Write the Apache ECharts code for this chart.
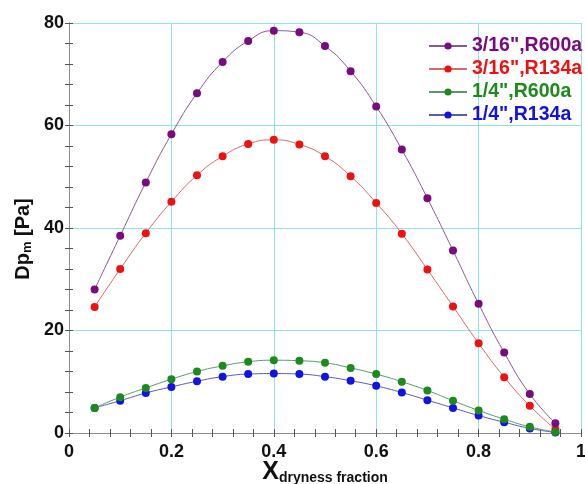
<!DOCTYPE html>
<html><head><meta charset="utf-8">
<script src="https://cdn.jsdelivr.net/npm/echarts@6/dist/echarts.min.js"></script>
<style>html,body{margin:0;padding:0;background:#fff;overflow:hidden}#c{width:585px;height:484px}</style>
</head><body><div id="c"></div>
<script>
const xValues = [0.05,0.10,0.15,0.20,0.25,0.30,0.35,0.40,0.45,0.50,0.55,0.60,0.65,0.70,0.75,0.80,0.85,0.90,0.95];
const r600a316 = [28.0,38.5,48.9,58.3,66.3,72.4,76.5,78.5,78.2,75.5,70.6,63.7,55.3,45.8,35.6,25.2,15.7,7.6,1.9];
const r134a316 = [24.6,32.0,39.0,45.1,50.3,54.0,56.4,57.2,56.3,54.0,50.1,44.9,38.9,31.9,24.7,17.5,10.9,5.3,0.7];
const r600a14 = [4.9,7.0,8.8,10.5,12.0,13.1,13.9,14.2,14.1,13.7,12.7,11.5,10.0,8.3,6.3,4.4,2.7,1.2,0.2];
const r134a14 = [4.9,6.3,7.8,9.0,10.1,11.0,11.5,11.6,11.5,11.0,10.2,9.2,7.9,6.4,4.9,3.4,2.1,0.9,0.1];
const seriesNames = ['3/16",R600a','3/16",R134a','1/4",R600a','1/4",R134a'];
const xTicks = [0,0.2,0.4,0.6,0.8,1];
const yTicks = [0,20,40,60,80];

const pts = arr => arr.map((v,i)=>[xValues[i], v]);
const FONT = 'Liberation Sans, Arial, sans-serif';
const cols = {
  p:{m:'#7a0a80', l:'#8a5a8e'},
  r:{m:'#ee1111', l:'#d86a6a'},
  g:{m:'#1c8a1c', l:'#5a9a6a'},
  b:{m:'#1212e6', l:'#5a5ab8'}
};
function mk(name, data, c, z){
  return {name, type:'line', data:pts(data), smooth:0.5, symbol:'circle', symbolSize:8, z,
    itemStyle:{color:c.m}, lineStyle:{color:c.l, width:1}, emphasis:{disabled:true}};
}
const chart = echarts.init(document.getElementById('c'), null, {renderer:'canvas'});
const axisLine = {show:true, lineStyle:{color:'#8c8c8c', width:1}};
chart.setOption({
  animation:false,
  backgroundColor:'#fff',
  grid:{left:69, right:4, top:23, bottom:51, containLabel:false, outerBoundsMode:'none'},
  legend:{
    orient:'vertical', left:423, top:31, itemGap:3, itemWidth:38, itemHeight:9,
    textStyle:{fontFamily:FONT, fontWeight:'bold', fontSize:19.5},
    data:[
      {name:seriesNames[0], textStyle:{color:cols.p.m}},
      {name:seriesNames[1], textStyle:{color:cols.r.m}},
      {name:seriesNames[2], textStyle:{color:cols.g.m}},
      {name:seriesNames[3], textStyle:{color:cols.b.m}}
    ]
  },
  xAxis:[{
    type:'value', min:0, max:1, interval:0.2,
    axisLine, axisTick:{show:true, inside:true, length:4, lineStyle:{color:'#555'}},
    minorTick:{show:true, splitNumber:5, length:4, lineStyle:{color:'#555'}},
    splitLine:{show:true, lineStyle:{color:'#8ee6ea', width:1}},
    axisLabel:{fontFamily:FONT, fontWeight:'bold', fontSize:18, color:'#111', margin:10,
      formatter:v=>{const t=xTicks.find(x=>Math.abs(x-v)<1e-9); return t===undefined?'':String(t);}},
    name:'{a|X}{b|dryness fraction}', nameLocation:'middle', nameGap:26, nameMoveOverlap:false,
    nameTextStyle:{rich:{a:{fontFamily:FONT, fontWeight:'bold', fontSize:25, color:'#111'},
      b:{fontFamily:FONT, fontWeight:'bold', fontSize:14, color:'#111', padding:[12,0,0,0]}}}
  },{
    type:'value', min:0, max:1, interval:0.2, position:'top',
    axisLine, axisTick:{show:true, inside:true, length:4, lineStyle:{color:'#555'}},
    minorTick:{show:true, splitNumber:5, length:4, lineStyle:{color:'#555'}},
    splitLine:{show:false}, axisLabel:{show:false}
  }],
  yAxis:[{
    type:'value', min:0, max:80, interval:20,
    axisLine, axisTick:{show:true, inside:true, length:4, lineStyle:{color:'#555'}},
    minorTick:{show:true, splitNumber:5, length:4, lineStyle:{color:'#555'}},
    splitLine:{show:true, lineStyle:{color:'#8ee6ea', width:1}},
    axisLabel:{fontFamily:FONT, fontWeight:'bold', fontSize:18, color:'#111', margin:5,
      formatter:v=>{const t=yTicks.find(x=>Math.abs(x-v)<1e-9); return t===undefined?'':String(t);}},
    name:'{a|Dp}{b|m}{a| [Pa]}', nameLocation:'middle', nameGap:35, nameRotate:90, nameMoveOverlap:false,
    nameTextStyle:{padding:[0,22,0,0], rich:{a:{fontFamily:FONT, fontWeight:'bold', fontSize:20, color:'#111'},
      b:{fontFamily:FONT, fontWeight:'bold', fontSize:13, color:'#111', padding:[9,0,0,0]}}}
  },{
    type:'value', min:0, max:80, interval:20, position:'right',
    axisLine, axisTick:{show:true, inside:true, length:4, lineStyle:{color:'#555'}},
    minorTick:{show:true, splitNumber:5, length:4, lineStyle:{color:'#555'}},
    splitLine:{show:false}, axisLabel:{show:false}
  }],
  series:[
    mk(seriesNames[3], r134a14, cols.b, 2),
    mk(seriesNames[1], r134a316, cols.r, 3),
    mk(seriesNames[2], r600a14, cols.g, 4),
    mk(seriesNames[0], r600a316, cols.p, 5)
  ]
});
</script></body></html>
